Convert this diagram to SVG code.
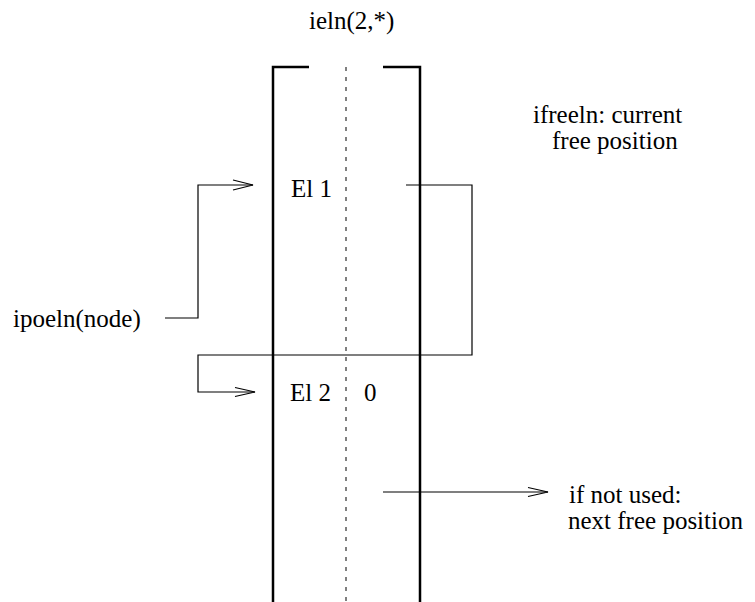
<svg xmlns="http://www.w3.org/2000/svg" width="755" height="602" viewBox="0 0 755 602">
<style>
.t{font-family:'Liberation Serif','Times New Roman',Times,serif;font-size:25px;fill:#000}
.wall{fill:none;stroke:#000;stroke-width:2.5}
.dash{fill:none;stroke:#000;stroke-width:1;stroke-dasharray:4 6}
.c{fill:none;stroke:#000;stroke-width:1.2}
</style>
<rect width="755" height="602" fill="#fff"/>
<g id="array">
<path class="wall" d="M309,67 H273 V602"/>
<path class="wall" d="M383,67 H420 V602"/>
<path class="dash" d="M346,67 V602"/>
<text class="t" x="309" y="29">ieln(2,*)</text>
</g>
<g id="el1"><text class="t" x="291" y="197">El 1</text></g>
<g id="el2"><text class="t" x="290" y="401">El 2</text><text class="t" x="364" y="401">0</text></g>
<g id="ifreeln"><text class="t" x="533" y="123">ifreeln: current</text><text class="t" x="552" y="149">free position</text></g>
<g id="ipoeln"><text class="t" x="13" y="327">ipoeln(node)</text></g>
<g id="notused"><text class="t" x="569" y="503">if not used:</text><text class="t" x="568" y="529">next free position</text></g>
<g id="connectors">
<path class="c" d="M165,318 H198 V185 H253"/>
<path class="c" d="M233,180 L253,185 L233,190"/>
<path class="c" d="M406,185 H472 V355 H198 V392 H255"/>
<path class="c" d="M235,387.5 L255,392 L235,396.5"/>
<path class="c" d="M383,492 H548"/>
<path class="c" d="M528,487.5 L548,492 L528,496.5"/>
</g>
</svg>
